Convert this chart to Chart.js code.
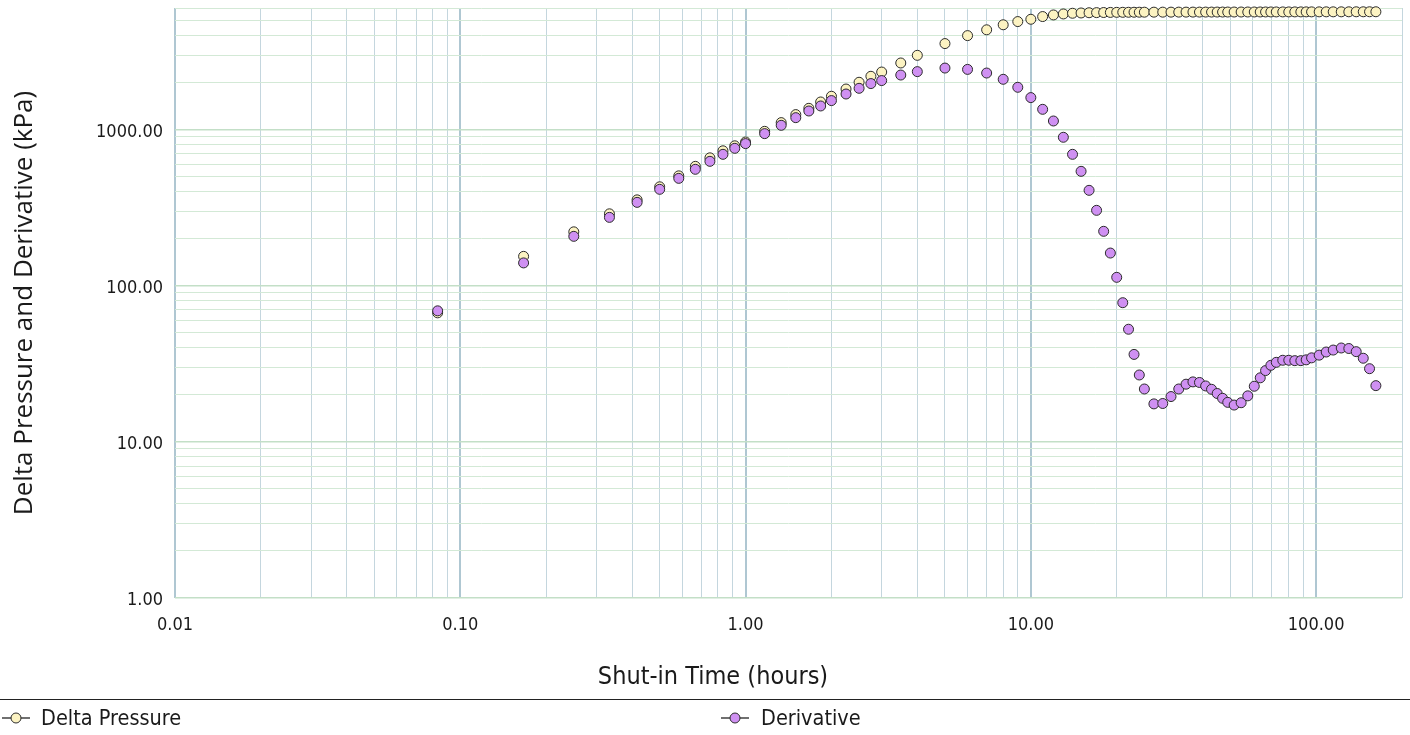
<!DOCTYPE html>
<html>
<head>
<meta charset="utf-8">
<script src="https://cdn.jsdelivr.net/npm/chart.js@4.4.1/dist/chart.umd.min.js"></script>
<style>
  html, body { margin: 0; padding: 0; background: #ffffff; }
  #wrap { position: relative; width: 1410px; height: 735px; overflow: hidden; background: #fff; }
  #chartBox { position: absolute; left: 0; top: 0; width: 1410px; height: 700px; }
  #legend { position: absolute; left: 0; top: 699px; width: 1410px; height: 35px;
            border-top: 1px solid #222; color: #1a1a1a;
            font-family: "DejaVu Sans Condensed", "DejaVu Sans", sans-serif; font-size: 21.5px; }
  .lg-item { position: absolute; top: 0; height: 35px; display: flex; align-items: center; white-space: nowrap; }
  .lg-item svg { display: block; }
</style>
</head>
<body>
<div id="wrap">
  <div id="chartBox"><canvas id="c" width="1410" height="700"></canvas></div>
  <div id="legend"></div>
</div>
<script>
// ---------------- data ----------------
const shutInHours = [0.0833, 0.1667, 0.25, 0.3333, 0.4167, 0.5, 0.5833, 0.6667, 0.75, 0.8333, 0.9167, 1.0,
  1.1667, 1.3333, 1.5, 1.6667, 1.8333, 2.0, 2.25, 2.5, 2.75, 3.0, 3.5, 4.0,
  5, 6, 7, 8, 9, 10, 11, 12, 13, 14, 15, 16, 17, 18, 19, 20, 21, 22, 23, 24, 25,
  27, 29, 31, 33, 35, 37, 39, 41, 43, 45, 47, 49,
  51.6, 54.6, 57.6, 60.7, 63.7, 66.5, 69.4, 72.5, 76.4, 80.2, 84.2, 88.4, 92.3, 96.4,
  102.5, 108.5, 114.8, 122.5, 130.2, 138.2, 146.3, 153.9, 162];

const deltaPressure = [67.0, 154.1, 221.2, 288.5, 354.4, 429.6, 505, 581, 658.6, 730.6, 786.5, 832,
  973.6, 1107, 1246, 1367, 1501, 1633, 1817, 2007, 2192, 2334, 2667, 2986,
  3551, 3993, 4350, 4685, 4912, 5082, 5289, 5416, 5496, 5553, 5576, 5595, 5604, 5614, 5622, 5628, 5631, 5634, 5637, 5639, 5641,
  5643, 5644, 5645, 5646, 5647, 5648, 5649, 5650, 5651, 5652, 5653, 5654,
  5655, 5656, 5657, 5658, 5659, 5660, 5661, 5662, 5663, 5664, 5665, 5666, 5667, 5668,
  5669, 5670, 5671, 5672, 5673, 5674, 5675, 5676, 5677];

const derivative = [69.0, 139.9, 207, 273.8, 341.6, 414, 486.7, 556.2, 625.5, 693.7, 757.8, 812.4,
  941.1, 1064, 1191, 1314, 1415, 1532, 1688, 1836, 1969, 2058, 2233, 2348,
  2475, 2427, 2300, 2097, 1864, 1601, 1347, 1134, 891.9, 693.7, 539.8, 407.9, 303.7, 222.9, 161.8, 113.1, 77.8, 52.6, 36.3, 26.8, 21.8,
  17.5, 17.6, 19.5, 21.8, 23.4, 24.2, 24.0, 22.8, 21.7, 20.4, 19.0, 17.9,
  17.2, 17.8, 19.7, 22.7, 25.7, 28.6, 30.9, 32.3, 33.3, 33.3, 33.1, 33.1, 33.5, 34.5,
  35.9, 37.6, 38.7, 39.9, 39.6, 37.8, 34.3, 29.4, 22.9];

const seriesNames = ['Delta Pressure', 'Derivative'];

const xTickValues = [0.01, 0.1, 1, 10, 100];
const xTickLabels = ['0.01', '0.10', '1.00', '10.00', '100.00'];
const yTickValues = [1, 10, 100, 1000];
const yTickLabels = ['1.00', '10.00', '100.00', '1000.00'];
const gridMultipliers = [1, 2, 3, 4, 5, 6, 7, 8, 9];

const xRange = [0.01, 200];
const yRange = [1, 6000];
const xTitle = 'Shut-in Time (hours)';
const yTitle = 'Delta Pressure and Derivative (kPa)';

// ---------------- styling ----------------
const FONT = '"DejaVu Sans Condensed", "DejaVu Sans", sans-serif';
const TEXT = '#1a1a1a';
const yellowFill = '#fcf3c2';
const purpleFill = '#cf90f2';
const pointEdge = '#2b2b2b';
const vGridMinor = '#c4d6de';
const vGridMajor = '#afc7d2';
const hGridMinor = '#d3e9d6';
const hGridMajor = '#c3dfc7';

function isDecade(v) {
  const l = Math.log10(v);
  return Math.abs(l - Math.round(l)) < 1e-9;
}
function gridValues(min, max) {
  const out = [];
  for (let e = Math.floor(Math.log10(min)); e <= Math.ceil(Math.log10(max)); e++) {
    for (const m of gridMultipliers) {
      const v = Number((m * Math.pow(10, e)).toPrecision(8));
      if (v >= min * 0.999999 && v <= max * 1.000001) out.push(v);
    }
  }
  return out;
}
function labelFor(values, labels, v) {
  for (let i = 0; i < values.length; i++) {
    if (Math.abs(values[i] - v) / values[i] < 1e-6) return labels[i];
  }
  return '';
}
function pts(xs, ys) { return xs.map((x, i) => ({ x: x, y: ys[i] })); }

const chart = new Chart(document.getElementById('c'), {
  type: 'scatter',
  data: {
    datasets: [
      { label: seriesNames[0], data: pts(shutInHours, deltaPressure), order: 1, clip: false,
        backgroundColor: yellowFill, borderColor: pointEdge, pointBackgroundColor: yellowFill,
        pointBorderColor: pointEdge, pointBorderWidth: 1, pointRadius: 5, showLine: false },
      { label: seriesNames[1], data: pts(shutInHours, derivative), order: 0, clip: false,
        backgroundColor: purpleFill, borderColor: pointEdge, pointBackgroundColor: purpleFill,
        pointBorderColor: pointEdge, pointBorderWidth: 1, pointRadius: 5, showLine: false }
    ]
  },
  options: {
    responsive: false,
    animation: false,
    devicePixelRatio: 1,
    layout: { padding: { top: 8, right: 8, left: 0, bottom: 0 } },
    plugins: {
      legend: { display: false },
      tooltip: { enabled: false },
      title: {
        display: true, position: 'bottom', text: xTitle, color: TEXT,
        font: { family: FONT, size: 25, weight: 'normal' },
        padding: { top: 0, bottom: 8 }
      }
    },
    scales: {
      x: {
        type: 'logarithmic', position: 'bottom', min: xRange[0], max: xRange[1],
        border: { display: false },
        grid: {
          drawTicks: false,
          color: c => (c.tick && isDecade(c.tick.value)) ? vGridMajor : vGridMinor,
          lineWidth: c => (c.tick && isDecade(c.tick.value)) ? 2 : 1
        },
        ticks: {
          autoSkip: false, maxRotation: 0, minRotation: 0, padding: 17, color: TEXT,
          font: { family: FONT, size: 18 },
          callback: v => labelFor(xTickValues, xTickLabels, v)
        },
        afterBuildTicks: s => { s.ticks = gridValues(xRange[0], xRange[1]).map(v => ({ value: v })); },
        afterFit: s => { s.height = 64; s.paddingLeft = 0; s.paddingRight = 0; }
      },
      y: {
        type: 'logarithmic', position: 'left', min: yRange[0], max: yRange[1],
        border: { display: false },
        grid: {
          drawTicks: false,
          color: c => (c.tick && isDecade(c.tick.value)) ? hGridMajor : hGridMinor,
          lineWidth: c => (c.tick && isDecade(c.tick.value)) ? 1.5 : 1
        },
        title: {
          display: true, text: yTitle, color: TEXT,
          font: { family: '"Open Sans", sans-serif', size: 26, weight: 'normal' },
          padding: { top: 9, bottom: 0 }
        },
        ticks: {
          autoSkip: false, padding: 12, labelOffset: 2.5, color: TEXT,
          font: { family: FONT, size: 18 },
          callback: v => labelFor(yTickValues, yTickLabels, v)
        },
        afterBuildTicks: s => { s.ticks = gridValues(yRange[0], yRange[1]).map(v => ({ value: v })); },
        afterFit: s => { s.width = 175; s.paddingTop = 0; s.paddingBottom = 0; }
      }
    }
  },
  plugins: [{
    id: 'titleShift',
    afterLayout(ch) { if (ch.titleBlock) { ch.titleBlock.left = 16; ch.titleBlock.right = 1410; } }
  }]
});

// ---------------- HTML legend built from the chart's datasets ----------------
(function buildLegend() {
  const host = document.getElementById('legend');
  const slots = [{ marker: 2, text: 41 }, { marker: 721, text: 761 }];
  chart.data.datasets.forEach((ds, i) => {
    const slot = slots[i];
    const m = document.createElement('div');
    m.className = 'lg-item';
    m.style.left = slot.marker + 'px';
    m.innerHTML = '<svg width="28" height="14" viewBox="0 0 28 14">' +
      '<line x1="0" y1="7" x2="28" y2="7" stroke="#333" stroke-width="1.4"/>' +
      '<circle cx="14" cy="7" r="5" fill="' + ds.pointBackgroundColor + '" stroke="#2b2b2b" stroke-width="1"/></svg>';
    host.appendChild(m);
    const t = document.createElement('div');
    t.className = 'lg-item';
    t.style.left = slot.text + 'px';
    t.textContent = ds.label;
    host.appendChild(t);
  });
})();
</script>
</body>
</html>
